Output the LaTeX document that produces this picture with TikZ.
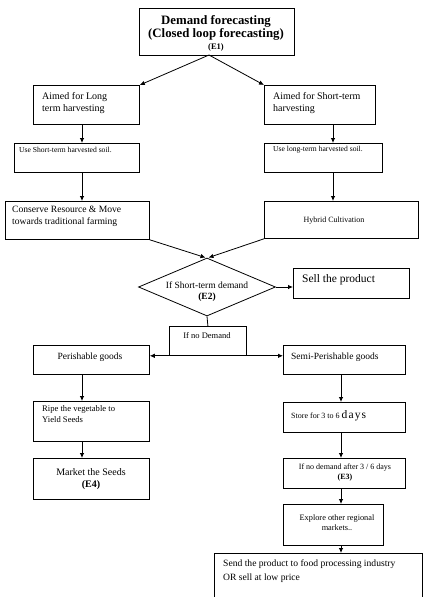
\documentclass[tikz,border=0pt]{standalone}
\usepackage{fontspec}
\setmainfont{Liberation Serif}
\usetikzlibrary{shapes.geometric,arrows.meta}
\newcommand\myfs[2]{\fontsize{#1}{#2}\selectfont}
\begin{document}
\begin{tikzpicture}[x=1pt,y=-1pt,
  box/.style={draw, line width=0.8pt, inner sep=0pt, anchor=north west},
  txt/.style={inner sep=0pt, anchor=west, align=left},
  ctxt/.style={inner sep=0pt, align=center},
  arr/.style={line width=0.8pt, -{Latex[length=5pt,width=4.5pt]}},
  darr/.style={line width=0.8pt, {Latex[length=5pt,width=4.5pt]}-{Latex[length=5pt,width=4.5pt]}},
  ln/.style={line width=0.8pt}]
\useasboundingbox (0,0) rectangle (430,597);
\fill[white] (0,0) rectangle (430,597);

% top
\node[box, minimum width=155pt, minimum height=47pt] (E1) at (139,8) {};
\node[ctxt, font=\myfs{12.8}{14}\bfseries] (E1t) at (216,33) {Demand forecasting\\[-1pt]
  (Closed loop forecasting)\\[-2pt]
  {\myfs{8.5}{10}(E1)}};
\coordinate (apex) at (209,55);

% row 1
\node[box, minimum width=106pt, minimum height=39pt] (L1) at (33,85) {};
\node[txt, anchor=north west, font=\myfs{10}{12}] (L1t) at (42,92) {Aimed for Long\\term harvesting};
\node[box, minimum width=111pt, minimum height=39pt] (R1) at (264,85) {};
\node[txt, anchor=north west, font=\myfs{10}{12}] (R1t) at (273,92) {Aimed for Short-term\\harvesting};

% row 2
\node[box, minimum width=125pt, minimum height=29pt] (L2) at (14,143) {};
\node[txt, font=\myfs{7.6}{9}] (L2t) at (19,149.5) {Use Short-term harvested soil.};
\node[box, minimum width=118pt, minimum height=29pt] (R2) at (264,143) {};
\node[txt, font=\myfs{7.6}{9}] (R2t) at (273,149.5) {Use long-term harvested soil.};

% row 3
\node[box, minimum width=144pt, minimum height=38pt] (L3) at (5,201) {};
\node[txt, anchor=north west, font=\myfs{9.6}{12}] (L3t) at (12,206) {Conserve Resource \& Move\\towards traditional farming};
\node[box, minimum width=154pt, minimum height=37pt] (R3) at (264,201) {};
\node[ctxt, font=\myfs{8}{9}] (R3t) at (334,221) {Hybrid Cultivation};

% diamond
\node[draw, diamond, line width=0.8pt, inner sep=0pt, minimum width=137pt, minimum height=58pt] (D) at (207,287) {};
\node[ctxt, font=\myfs{9.5}{11}] (Dt) at (207,292) {If Short-term demand\\\textbf{(E2)}};
\node[box, minimum width=116pt, minimum height=30pt] (S) at (293,268) {};
\node[txt, font=\myfs{11.5}{13}] (St) at (302,280) {Sell the product};

% no demand
\node[box, minimum width=77pt, minimum height=29pt] (ND) at (169,326) {};
\node[ctxt, font=\myfs{8.5}{10}] (NDt) at (207,336) {If no Demand};

% goods
\node[box, minimum width=116pt, minimum height=29pt] (P) at (33,345) {};
\node[ctxt, font=\myfs{9.5}{11}] (Pt) at (90,357) {Perishable goods};
\node[box, minimum width=122pt, minimum height=29pt] (SP) at (283,345) {};
\node[txt, font=\myfs{9.5}{11}] (SPt) at (291,357) {Semi-Perishable goods};

% left column
\node[box, minimum width=116pt, minimum height=40pt] (RP) at (33,401) {};
\node[txt, anchor=north west, font=\myfs{8.6}{11}] (RPt) at (42,405) {Ripe the vegetable to\\Yield Seeds};
\node[box, minimum width=116pt, minimum height=41pt] (M) at (33,458) {};
\node[ctxt, font=\myfs{10}{12}] (Mt) at (91,479) {Market the Seeds\\\textbf{(E4)}};

% right column
\node[box, minimum width=122pt, minimum height=30pt] (ST) at (283,402) {};
\node[txt, font=\myfs{8}{9}] (STt) at (291,416) {Store for 3 to 6 {\myfs{11.5}{12}\addfontfeature{LetterSpace=10}days}};
\node[box, minimum width=122pt, minimum height=30pt] (E3) at (283,458) {};
\node[ctxt, font=\myfs{8}{10}] (E3t) at (345,473) {If no demand after 3 / 6 days\\\textbf{(E3)}};
\node[box, minimum width=100pt, minimum height=41pt] (EX) at (283,504) {};
\node[ctxt, font=\myfs{8.3}{10}] (EXt) at (337,523) {Explore other regional\\markets..};
\node[box, minimum width=208pt, minimum height=60pt] (F) at (214,553) {};
\node[txt, anchor=north west, font=\myfs{9.6}{14}] (Ft) at (223,560) {Send the product to food processing industry\\OR sell at low price};

% connectors
\draw[ln] (E1.south -| apex) -- (apex);
\draw[arr] (apex) -- (L1.north east);
\draw[arr] (apex) -- (R1.north west);
\draw[arr] (L1.south -| 82,0) -- (L2.north -| 82,0);
\draw[arr] (L2.south -| 82,0) -- (L3.north -| 82,0);
\draw[arr] (R1.south -| 333,0) -- (R2.north -| 333,0);
\draw[arr] (R2.south -| 333,0) -- (R3.north -| 333,0);
\draw[arr] (L3.south east) -- ([xshift=-1.5pt]D.north);
\draw[arr] (R3.south west) -- ([xshift=1.5pt]D.north);
\draw[arr] (D.east) -- (S.west |- D.east);
\draw[ln] (D.south) -- (ND.north);
\draw[darr] (P.east |- ND.south) -- (SP.west |- ND.south);
\draw[arr] (P.south -| 82,0) -- (RP.north -| 82,0);
\draw[arr] (RP.south -| 82,0) -- (M.north -| 82,0);
\draw[arr] (SP.south -| 341,0) -- (ST.north -| 341,0);
\draw[arr] (ST.south -| 341,0) -- (E3.north -| 341,0);
\draw[arr] (E3.south -| 341,0) -- (EX.north -| 341,0);
\draw[arr] (EX.south -| 341,0) -- (F.north -| 341,0);
\end{tikzpicture}
\end{document}
